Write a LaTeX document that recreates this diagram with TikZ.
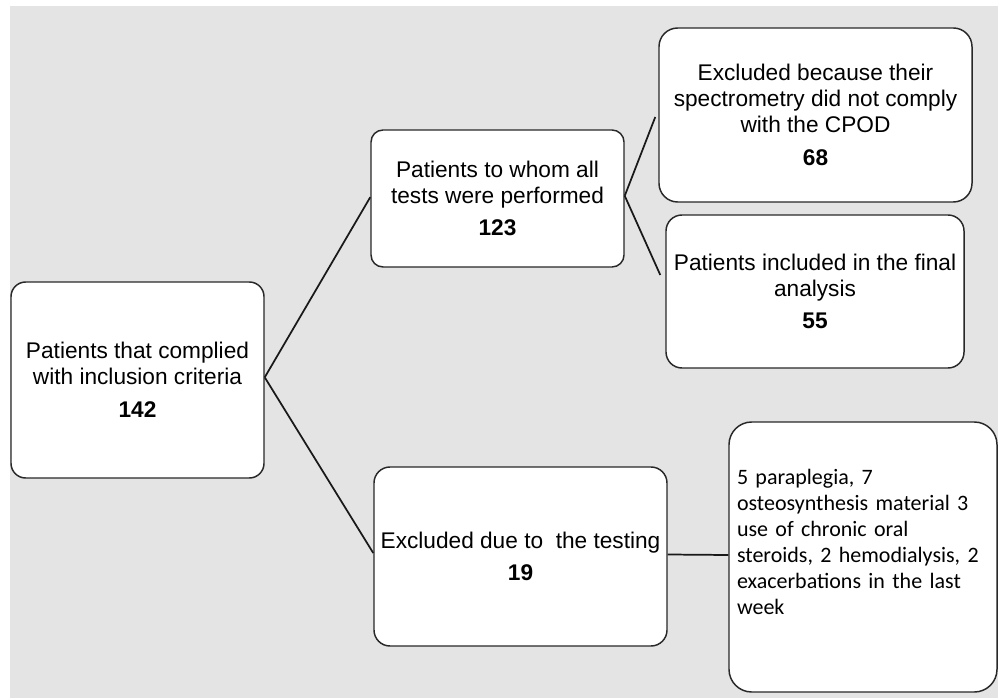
\documentclass[tikz,border=0pt]{standalone}
\usepackage{fontspec}
\setmainfont{Liberation Sans}
\newfontfamily\calfont{Carlito}
\definecolor{bgcol}{RGB}{228,228,228}
\definecolor{edgecol}{RGB}{40,40,40}
\begin{document}
\begin{tikzpicture}[x=0.75pt,y=-0.75pt,
  box/.style={draw=edgecol, line width=1.1pt, fill=white, rounded corners=#1,
    align=center, inner sep=0pt, font=\fontsize{17}{19.5}\selectfont},
  box/.default=11pt,
  link/.style={draw=black!90, line width=1.3pt}]
\useasboundingbox (0,0) rectangle (998,698);
\fill[white] (0,0) rectangle (998,698);
\fill[bgcol] (10,6) rectangle (998,698);

\node[box=11pt, minimum width=189.75pt, minimum height=147pt] (A) at (137.5,380)
  {Patients that complied\\with inclusion criteria\\[5pt]\textbf{142}};
\node[box=9pt, minimum width=189.75pt, minimum height=102.75pt] (B) at (497.5,198.5)
  {Patients to whom all\\tests were performed\\[5pt]\textbf{123}};
\node[box=14pt, minimum width=234.75pt, minimum height=130.5pt] (C) at (815.5,115)
  {Excluded because their\\spectrometry did not comply\\with the CPOD\\[5pt]\textbf{68}};
\node[box=12pt, minimum width=223.5pt, minimum height=114.75pt] (D) at (815,291.5)
  {Patients included in the final\\analysis\\[5pt]\textbf{55}};
\node[box=12pt, minimum width=219.75pt, minimum height=134.25pt] (E) at (520.5,556.5)
  {Excluded due to\ \ the testing\\[5pt]\textbf{19}};
\node[box=17pt, minimum width=201pt, minimum height=202.5pt, text width=189pt,
  align=left, inner xsep=6pt, font=\calfont\fontsize{16.5}{19.5}\selectfont] (F) at (863,557)
  {5 paraplegia, 7\\osteosynthesis material 3\\use of chronic oral\\steroids, 2 hemodialysis, 2\\exacerbations in the last\\week\\[3pt]\mbox{}};

\draw[link] ([yshift=2pt]A.east) -- ([yshift=1pt]B.west);
\draw[link] ([yshift=2pt]A.east) -- ([yshift=2.6pt]E.west);
\draw[link] ([yshift=2pt]B.east) -- ([xshift=-2.25pt,yshift=-1.5pt]C.west);
\draw[link] ([yshift=2pt]B.east) -- ([xshift=-3.75pt,yshift=12.4pt]D.west);
\draw[link] ([yshift=1.5pt]E.east) -- ([yshift=1.5pt]F.west);
\end{tikzpicture}
\end{document}
